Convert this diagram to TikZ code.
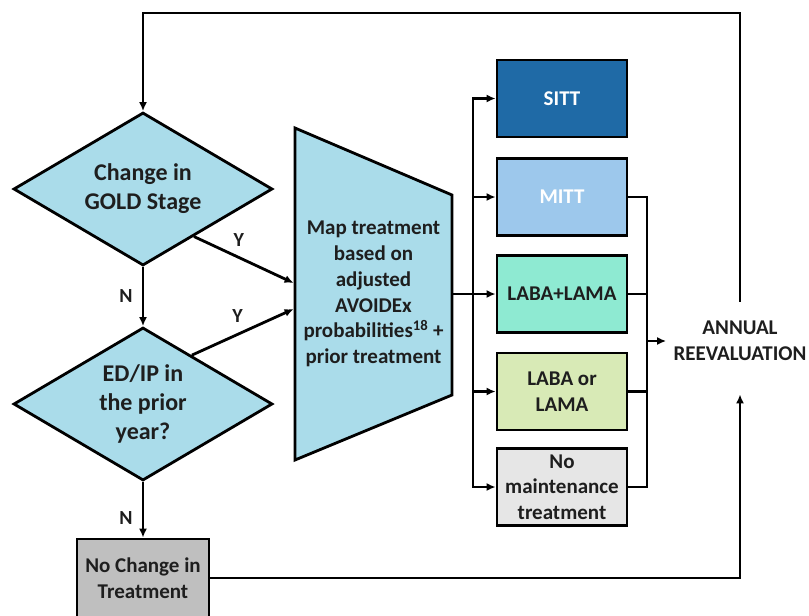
\documentclass[tikz,border=0pt]{standalone}
\usepackage{fontspec}
\setmainfont{Carlito}
\usetikzlibrary{shapes.geometric,arrows.meta}
\definecolor{decblue}{RGB}{170,220,234}
\definecolor{sittcol}{RGB}{31,106,166}
\definecolor{mittcol}{RGB}{157,200,236}
\definecolor{lalmcol}{RGB}{142,234,210}
\definecolor{laborcol}{RGB}{216,234,182}
\definecolor{nomntcol}{RGB}{230,230,230}
\definecolor{nochgcol}{RGB}{191,191,191}
\definecolor{inkcol}{RGB}{30,30,30}

\begin{document}
\begin{tikzpicture}[x=1pt,y=-1pt,line width=2.8pt,>={Latex[length=9pt,width=8pt]},text=inkcol,
decision/.style={draw,diamond,aspect=1.7,fill=decblue,minimum width=259pt,minimum height=153pt,inner sep=0pt,align=center,font=\fontsize{24}{29}\selectfont\bfseries},
txbox/.style={draw,rectangle,minimum width=130pt,minimum height=77pt,inner sep=0pt,align=center,font=\fontsize{21}{25.5}\selectfont\bfseries},
yn/.style={inner sep=2pt,font=\fontsize{20}{24}\selectfont\bfseries}]

\useasboundingbox (0,0) rectangle (809,616);

\draw (143,189) node[decision] (gold) {Change in\\GOLD Stage};
\draw (143,404) node[decision] (edip) {ED/IP in\\the prior\\year?};
\draw (143,578) node[txbox,fill=nochgcol,minimum width=132pt,minimum height=78pt] (nochg) {No Change in\\Treatment};

\draw[fill=decblue] (295,128) -- (452,195) -- (452,395) -- (295,460) -- cycle;
\draw (373.5,294) node[minimum width=157pt,minimum height=332pt,inner sep=0pt,align=center,font=\fontsize{21}{25.7}\selectfont\bfseries] (map) {Map treatment\\based on\\adjusted\\AVOIDEx\\probabilities\textsuperscript{18} +\\prior treatment};

\draw (562,98.5) node[txbox,fill=sittcol,text=white] (sitt) {SITT};
\draw (562,197) node[txbox,fill=mittcol,text=white] (mitt) {MITT};
\draw (562,294) node[txbox,fill=lalmcol] (lalm) {LABA+LAMA};
\draw (562,391.5) node[txbox,fill=laborcol] (labor) {LABA or\\LAMA};
\draw (562,487) node[txbox,fill=nomntcol] (nomnt) {No\\maintenance\\treatment};
\draw (740,341) node[inner xsep=6pt,inner ysep=0pt,minimum height=76pt,align=center,font=\fontsize{21}{26}\selectfont\bfseries] (annual) {ANNUAL\\REEVALUATION};

\coordinate (bus) at (473,294);
\coordinate (join) at (647,341);
\coordinate (loop) at (143,13);

\draw[->] (gold.south) -- node[yn,left=7pt] {N} (edip.north);
\draw[->] (edip.south) -- node[yn,pos=.65,left=7pt] {N} (nochg.north);
\draw[->] (gold.-43) -- node[yn,pos=.45,above=8pt] {Y} ([yshift=11pt]map.west);
\draw[->] (edip.45) -- node[yn,pos=.45,above=8pt] {Y} ([yshift=-15pt]map.west);
\draw[->] (map.east) -- (lalm.west);
\draw[->] (bus) |- (sitt.west);
\draw[->] (bus) |- (mitt.west);
\draw[->] (bus) |- (labor.west);
\draw[->] (bus) |- (nomnt.west);
\draw (mitt.east) -| (join);
\draw (lalm.east) -| (join);
\draw (labor.east) -| (join);
\draw (nomnt.east) -| (join);
\draw[->] (join) -- (annual.west);
\draw[->] (annual.north) |- (loop) -- (gold.north);
\draw[->] (nochg.east) -| ([yshift=-14pt]annual.south);
\end{tikzpicture}
\end{document}
